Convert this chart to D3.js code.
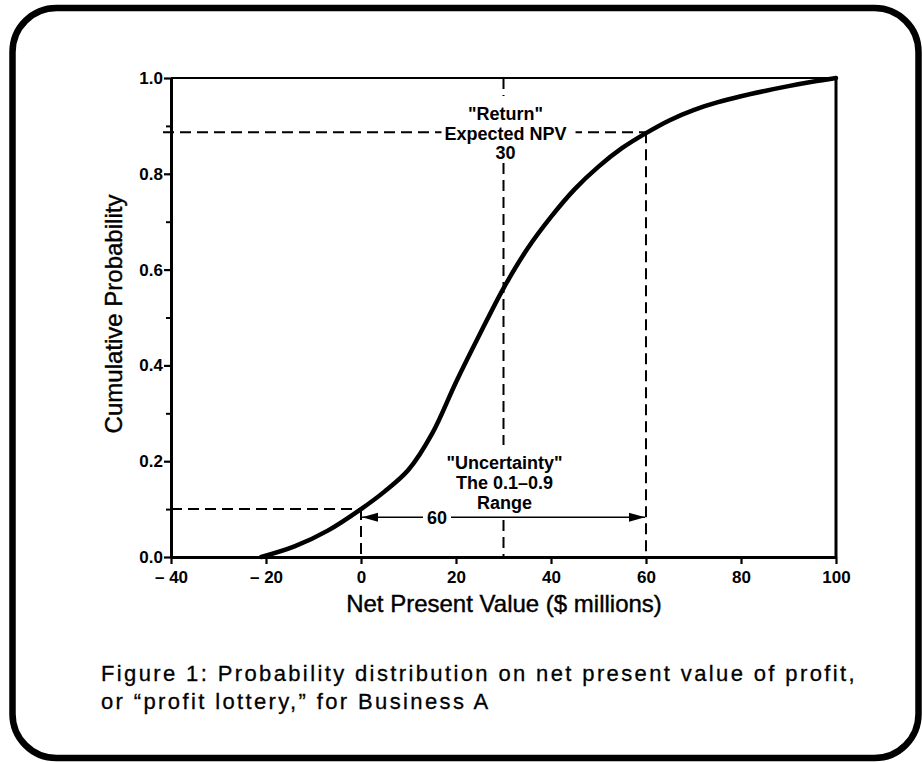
<!DOCTYPE html>
<html><head><meta charset="utf-8">
<script src="https://cdn.jsdelivr.net/npm/d3@7"></script>
<style>
body{margin:0;background:#fff}
svg{display:block}
text{font-family:"Liberation Sans",Arial,Helvetica,sans-serif;fill:#000}
</style>
</head><body><svg id="c" width="922" height="762"></svg>
<script>
// ---- data ----
const npv      = [-21, -14, -7, 0, 5, 10, 15, 20, 25, 30, 35, 40, 45, 50, 55, 60, 65, 70, 75, 80, 85, 90, 95, 100];
const cumProb  = [0, 0.022, 0.055, 0.10, 0.137, 0.182, 0.258, 0.365, 0.465, 0.561, 0.643, 0.71, 0.768, 0.815, 0.854, 0.885, 0.912, 0.933, 0.949, 0.962, 0.973, 0.983, 0.992, 1.0];
const xTicks      = [-40, -20, 0, 20, 40, 60, 80, 100];
const xTickLabels = ["\u2013 40", "\u2013 20", "0", "20", "40", "60", "80", "100"];
const yTicks      = [0, 0.2, 0.4, 0.6, 0.8, 1.0];
const yTickLabels = ["0.0", "0.2", "0.4", "0.6", "0.8", "1.0"];
const yMinorTicks = [0.1, 0.3, 0.5, 0.7, 0.9];
const expectedNPV = 30;
const lowNPV = 0, highNPV = 60;
const lowP = 0.1, highP = 0.887;
const rangeLabel = "60";
const rangeLabelAt = 16;     // NPV where the "60" label sits
const arrowP = 0.083;        // probability level of the range arrow
const returnLines = ['"Return"', 'Expected NPV', '30'];
const uncertaintyLines = ['"Uncertainty"', 'The 0.1\u20130.9', 'Range'];
const xTitle = "Net Present Value ($ millions)";
const yTitle = "Cumulative Probability";
const captionLines = ["Figure 1:  Probability distribution on net present value of profit,",
                      "or \u201Cprofit lottery,\u201D for Business A"];

// ---- drawing ----
const svg = d3.select("#c");
const x = d3.scaleLinear().domain([-40, 100]).range([171, 836]);
const y = d3.scaleLinear().domain([0, 1]).range([557, 78]);

// outer rounded frame
svg.append("rect").attr("x", 12.5).attr("y", 8).attr("width", 906).attr("height", 750)
  .attr("rx", 44).attr("ry", 44).attr("fill", "none").attr("stroke", "#000").attr("stroke-width", 6.5);

const dash = "11,6";
const dashed = (x1, y1, x2, y2) => svg.append("line")
  .attr("x1", x1).attr("y1", y1).attr("x2", x2).attr("y2", y2)
  .attr("stroke", "#000").attr("stroke-width", 2).attr("stroke-dasharray", dash);

// dashed guide lines
dashed(x(-40) - 8, y(highP), x(highNPV), y(highP));
dashed(x(highNPV), y(highP), x(highNPV), y(0));
dashed(x(-40), y(lowP), x(lowNPV), y(lowP));
dashed(x(lowNPV), y(lowP), x(lowNPV), y(0));
dashed(x(expectedNPV), y(1), x(expectedNPV), y(0));

// text blocks with knockouts
function textBlock(lines, cx, baseline0, step, size) {
  const g = svg.append("g");
  const bg = g.append("rect").attr("fill", "#fff");
  const t = g.selectAll("text").data(lines).join("text")
    .attr("x", cx).attr("y", (d, i) => baseline0 + i * step)
    .attr("text-anchor", "middle").attr("font-weight", "bold").attr("font-size", size)
    .text(d => d);
  let x0 = Infinity, y0 = Infinity, x1 = -Infinity, y1 = -Infinity;
  t.each(function () {
    const b = this.getBBox();
    x0 = Math.min(x0, b.x); y0 = Math.min(y0, b.y);
    x1 = Math.max(x1, b.x + b.width); y1 = Math.max(y1, b.y + b.height);
  });
  return {bg, box: {x0, y0, x1, y1}};
}
const ret = textBlock(returnLines, x(expectedNPV) + 2, 120, 19.5, 18);
ret.bg.attr("x", ret.box.x0 - 3).attr("y", ret.box.y0 - 8)
  .attr("width", ret.box.x1 - ret.box.x0 + 12).attr("height", ret.box.y1 - ret.box.y0 + 6);
const unc = textBlock(uncertaintyLines, x(expectedNPV) + 1, 469, 20, 18);
unc.bg.attr("x", unc.box.x0 - 4).attr("y", unc.box.y0 - 8)
  .attr("width", unc.box.x1 - unc.box.x0 + 8).attr("height", y(arrowP) - (unc.box.y0 - 8));

// axes
const gx = svg.append("g").attr("transform", `translate(0,${y(0)})`)
  .call(d3.axisBottom(x).tickValues(xTicks).tickFormat((d, i) => xTickLabels[i])
    .tickSize(7).tickSizeOuter(0).tickPadding(7));
gx.select(".domain").attr("stroke-width", 3);
gx.selectAll(".tick line").attr("stroke-width", 2.2);
gx.selectAll(".tick text").attr("font-size", 17).attr("font-weight", "bold")
  .attr("font-family", '"Liberation Sans",Arial,sans-serif').attr("fill", "#000");

const gy = svg.append("g").attr("transform", `translate(${x(-40)},0)`)
  .call(d3.axisLeft(y).tickValues(yTicks).tickFormat((d, i) => yTickLabels[i])
    .tickSize(7).tickSizeOuter(0).tickPadding(1));
gy.select(".domain").attr("stroke-width", 3);
gy.selectAll(".tick line").attr("stroke-width", 2.2);
gy.selectAll(".tick text").attr("font-size", 17).attr("font-weight", "bold")
  .attr("font-family", '"Liberation Sans",Arial,sans-serif').attr("fill", "#000");

const gym = svg.append("g").attr("transform", `translate(${x(-40)},0)`)
  .call(d3.axisLeft(y).tickValues(yMinorTicks).tickFormat("").tickSize(5).tickSizeOuter(0));
gym.select(".domain").remove();
gym.selectAll(".tick line").attr("stroke-width", 2);

// top and right frame lines
svg.append("line").attr("x1", x(-40)).attr("x2", x(100)).attr("y1", y(1)).attr("y2", y(1))
  .attr("stroke", "#000").attr("stroke-width", 2.2);
svg.append("line").attr("x1", x(100)).attr("x2", x(100)).attr("y1", y(1) - 1).attr("y2", y(0))
  .attr("stroke", "#000").attr("stroke-width", 3);

// cumulative curve
const pts = npv.map((v, i) => [v, cumProb[i]]);
svg.append("path").datum(pts)
  .attr("fill", "none").attr("stroke", "#000").attr("stroke-width", 4.5).attr("stroke-linecap", "round")
  .attr("d", d3.line().x(d => x(d[0])).y(d => y(d[1])).curve(d3.curveCatmullRom.alpha(0.5)));

// range arrow
const defs = svg.append("defs");
defs.append("marker").attr("id", "ah").attr("markerUnits", "userSpaceOnUse")
  .attr("viewBox", "0 0 16 10").attr("refX", 16).attr("refY", 5)
  .attr("markerWidth", 16).attr("markerHeight", 10).attr("orient", "auto-start-reverse")
  .append("path").attr("d", "M0,0.5 L16,5 L0,9.5 Z").attr("fill", "#000");
svg.append("line").attr("x1", x(lowNPV) + 1).attr("x2", x(highNPV) - 1)
  .attr("y1", y(arrowP)).attr("y2", y(arrowP))
  .attr("stroke", "#000").attr("stroke-width", 1.6)
  .attr("marker-start", "url(#ah)").attr("marker-end", "url(#ah)");
const rl = svg.append("g");
const rlbg = rl.append("rect").attr("fill", "#fff");
const rlt = rl.append("text").attr("x", x(rangeLabelAt)).attr("y", y(arrowP) + 6.5)
  .attr("text-anchor", "middle").attr("font-weight", "bold").attr("font-size", 18).text(rangeLabel);
{
  const b = rlt.node().getBBox();
  rlbg.attr("x", b.x - 4).attr("y", b.y).attr("width", b.width + 8).attr("height", b.height);
}

// axis titles
svg.append("text").attr("x", 504).attr("y", 612).attr("text-anchor", "middle")
  .attr("font-size", 24).attr("stroke", "#000").attr("stroke-width", 0.4).text(xTitle);
svg.append("text").attr("transform", "translate(122,314) rotate(-90)").attr("text-anchor", "middle")
  .attr("font-size", 24).attr("stroke", "#000").attr("stroke-width", 0.4).text(yTitle);

// caption
const cap = svg.append("g");
const capT = cap.selectAll("text").data(captionLines).join("text")
  .attr("x", 101).attr("y", (d, i) => 681 + i * 28).attr("font-size", 22)
  .attr("stroke", "#000").attr("stroke-width", 0.3).text(d => d);
{
  const n0 = capT.nodes()[0];
  const L = n0.getComputedTextLength();
  const n = captionLines[0].length;
  const ls = (756 - L) / (n - 1);
  capT.attr("letter-spacing", ls.toFixed(3));
}
</script>
</body></html>
